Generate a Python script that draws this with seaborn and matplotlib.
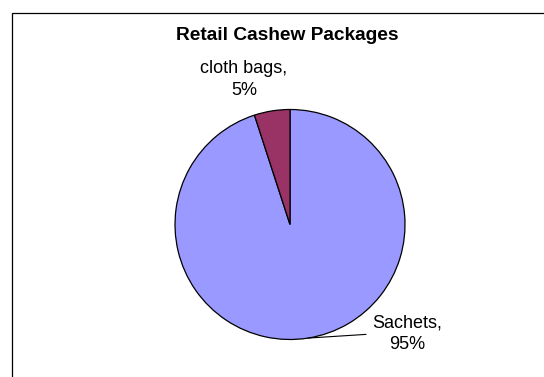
import matplotlib
matplotlib.use("Agg")
import matplotlib.pyplot as plt
import numpy as np
import seaborn as sns
from matplotlib.patches import Rectangle

sns.set_style("white")
plt.rcParams["font.family"] = ["Liberation Sans", "DejaVu Sans"]
plt.rcParams["text.color"] = "black"

# Data
categories = ["Sachets", "cloth bags"]
shares = [95, 5]
colors = ["#9999FF", "#993366"]
title = "Retail Cashew Packages"

W, H = 544, 377
fig = plt.figure(figsize=(W / 100, H / 100), dpi=100)
fig.patch.set_facecolor("white")

# chart-area frame (left and top edges visible)
fig.patches.append(Rectangle((11.5 / W, -0.1), 1.2, 1.1 - 13 / H,
                             transform=fig.transFigure, fill=False,
                             edgecolor="black", linewidth=0.9))

# pie axes: centre (290, 224.5) px, radius 115 px
cx, cy, r = 290, 224.5, 115
ax = fig.add_axes([(cx - r) / W, 1 - (cy + r) / H, 2 * r / W, 2 * r / H])
wedges, _ = ax.pie(shares, colors=colors, startangle=90, counterclock=False,
                   wedgeprops=dict(edgecolor="black", linewidth=0.9))
ax.set_xlim(-1, 1)
ax.set_ylim(-1, 1)
ax.set_aspect("equal")
ax.axis("off")

fig.text(287 / W, 1 - 36 / H, title, ha="center", va="center",
         fontsize=13.8, fontweight="bold", color="black")

def mid_point(w):
    ang = np.deg2rad((w.theta1 + w.theta2) / 2)
    return np.cos(ang), np.sin(ang)

label_pos = {"Sachets": (407, 334), "cloth bags": (244, 79.5)}
for w, cat, val in zip(wedges, categories, shares):
    lx, ly = label_pos[cat]
    txt = f"{cat},\n{val}%"
    if cat == "Sachets":
        ax.annotate(txt, xy=mid_point(w), xycoords="data",
                    xytext=(lx / W, 1 - ly / H), textcoords="figure fraction",
                    ha="center", va="center", fontsize=13, linespacing=1.35,
                    color="black",
                    arrowprops=dict(arrowstyle="-", color="black", lw=0.8,
                                    relpos=(0, 0.5), shrinkA=2, shrinkB=0))
    else:
        fig.text(lx / W, 1 - ly / H, txt, ha="center", va="center",
                 fontsize=13, linespacing=1.35, color="black")

fig.savefig("out.png", dpi=100, facecolor="white")
